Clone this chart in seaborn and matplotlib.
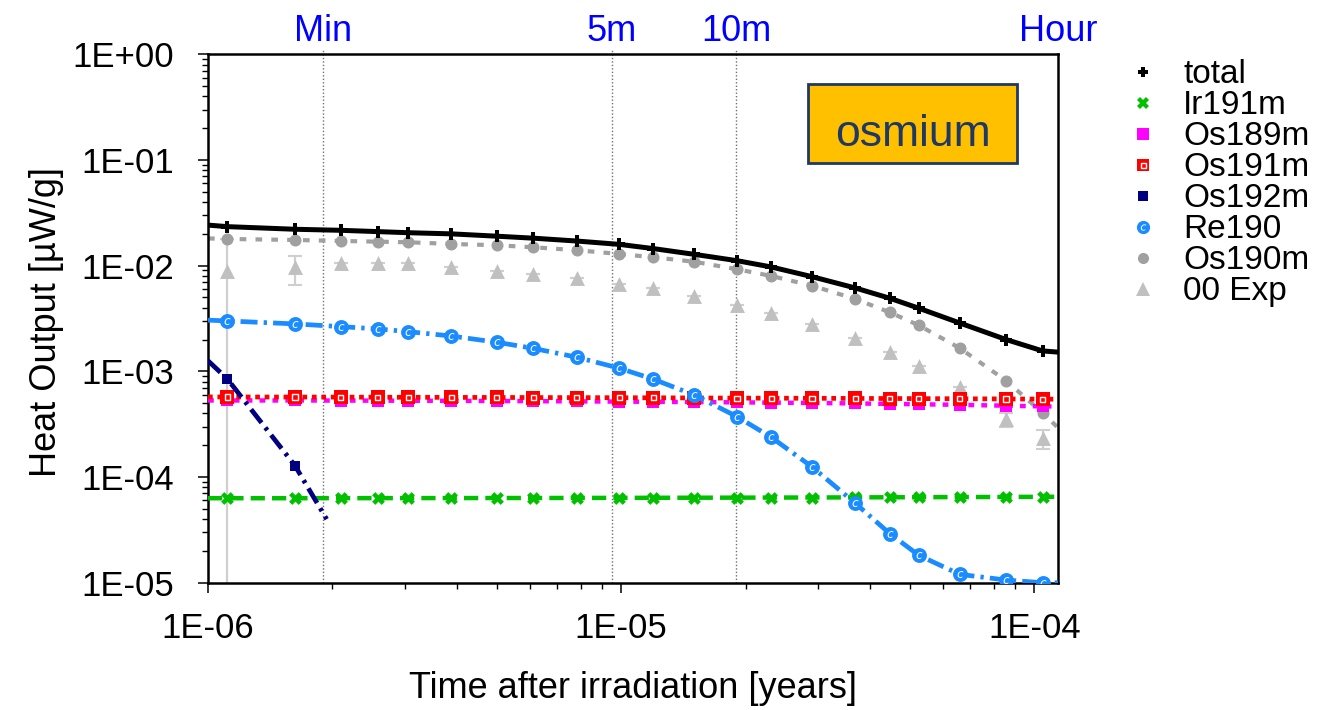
import numpy as np
import pandas as pd
import matplotlib
matplotlib.use("Agg")
import matplotlib.pyplot as plt
import seaborn as sns
from matplotlib.lines import Line2D
from matplotlib.patches import Rectangle
from matplotlib.ticker import LogLocator, FuncFormatter, NullFormatter
from matplotlib.transforms import blended_transform_factory

# ---------------- data ----------------
time_years = [1.114e-6, 1.624e-6, 2.096e-6, 2.576e-6, 3.05e-6, 3.876e-6, 5.0e-6,
              6.13e-6, 7.81e-6, 9.9e-6, 1.197e-5, 1.502e-5, 1.906e-5, 2.307e-5,
              2.895e-5, 3.686e-5, 4.465e-5, 5.248e-5, 6.594e-5, 8.54e-5, 1.047e-4]

total = [0.0234, 0.0221, 0.0216, 0.0210, 0.0205, 0.0200, 0.0190, 0.0182, 0.0171,
         0.0159, 0.0145, 0.0128, 0.01115, 0.00972, 0.00787, 0.00615, 0.00492,
         0.00396, 0.00287, 0.00200, 0.00156]
ir191m = [6.30e-5, 6.30e-5, 6.31e-5, 6.31e-5, 6.32e-5, 6.32e-5, 6.33e-5, 6.33e-5,
          6.34e-5, 6.35e-5, 6.36e-5, 6.37e-5, 6.38e-5, 6.39e-5, 6.40e-5, 6.42e-5,
          6.43e-5, 6.44e-5, 6.46e-5, 6.48e-5, 6.50e-5]
os189m = [5.30e-4, 5.30e-4, 5.29e-4, 5.28e-4, 5.27e-4, 5.26e-4, 5.24e-4, 5.22e-4,
          5.20e-4, 5.17e-4, 5.15e-4, 5.12e-4, 5.09e-4, 5.06e-4, 5.02e-4, 4.97e-4,
          4.92e-4, 4.88e-4, 4.82e-4, 4.73e-4, 4.66e-4]
os191m = [5.72e-4, 5.71e-4, 5.70e-4, 5.69e-4, 5.68e-4, 5.67e-4, 5.66e-4, 5.65e-4,
          5.64e-4, 5.63e-4, 5.62e-4, 5.60e-4, 5.58e-4, 5.57e-4, 5.56e-4, 5.54e-4,
          5.53e-4, 5.52e-4, 5.50e-4, 5.48e-4, 5.46e-4]
os192m_time = [1.114e-6, 1.624e-6]
os192m = [8.47e-4, 1.28e-4]
re190 = [3.0e-3, 2.81e-3, 2.65e-3, 2.52e-3, 2.375e-3, 2.16e-3, 1.885e-3, 1.65e-3,
         1.36e-3, 1.07e-3, 8.42e-4, 5.98e-4, 3.73e-4, 2.38e-4, 1.25e-4, 5.65e-5,
         2.92e-5, 1.82e-5, 1.20e-5, 1.06e-5, 1.0e-5]
os190m = [0.01789, 0.0175, 0.01713, 0.01687, 0.01665, 0.01605, 0.0156, 0.01493,
          0.0140, 0.0129, 0.0120, 0.0109, 0.00925, 0.00799, 0.00647, 0.00484,
          0.00362, 0.00273, 0.00166, 8.17e-4, 4.04e-4]
exp00 = [8.91e-3, 9.78e-3, 1.067e-2, 1.067e-2, 1.067e-2, 9.78e-3, 8.97e-3, 8.40e-3,
         7.70e-3, 6.67e-3, 6.11e-3, 5.17e-3, 4.25e-3, 3.55e-3, 2.79e-3, 2.06e-3,
         1.54e-3, 1.125e-3, 7.16e-4, 3.52e-4, 2.33e-4]
exp00_low = [1e-9, 6.57e-3, 1.067e-2, 1.067e-2, 1.067e-2, 9.78e-3, 8.97e-3, 8.40e-3,
             7.70e-3, 6.67e-3, 6.11e-3, 5.17e-3, 4.25e-3, 3.55e-3, 2.79e-3, 2.06e-3,
             1.54e-3, 1.125e-3, 7.16e-4, 3.0e-4, 1.845e-4]
exp00_high = [1.78e-2, 1.244e-2, 1.067e-2, 1.067e-2, 1.067e-2, 9.78e-3, 8.97e-3, 8.40e-3,
              7.70e-3, 6.67e-3, 6.11e-3, 5.17e-3, 4.25e-3, 3.55e-3, 2.79e-3, 2.06e-3,
              1.54e-3, 1.125e-3, 7.16e-4, 4.07e-4, 2.79e-4]

# curve values read where each drawn curve meets the plot edges
edge_times = [1e-6, 1.1408e-4]
total_edges = [0.0242, 1.52e-3]
ir191m_edges = [6.30e-5, 6.50e-5]
os189m_edges = [5.30e-4, 4.65e-4]
os191m_edges = [5.73e-4, 5.45e-4]
re190_edges = [3.05e-3, 1.0e-5]
os190m_edges = [0.0181, 2.93e-4]
os192m_curve_time = [1e-6, 1.114e-6, 1.624e-6, 1.937e-6]
os192m_curve = [1.26e-3, 8.47e-4, 1.28e-4, 3.99e-5]

marker_times = {"Min": 1.901e-6, "5m": 9.506e-6, "10m": 1.901e-5, "Hour": 1.1408e-4}
labels = ["total", "Ir191m", "Os189m", "Os191m", "Os192m", "Re190", "Os190m", "00 Exp"]
y_ticks = [1e-5, 1e-4, 1e-3, 1e-2, 1e-1, 1e0]
x_ticks = [1e-6, 1e-5, 1e-4]

# ---------------- style ----------------
sns.set_style("ticks")
plt.rcParams["font.family"] = ["Liberation Sans", "DejaVu Sans"]
plt.rcParams["axes.linewidth"] = 1.8
for k in ["text.color", "axes.labelcolor", "xtick.color", "ytick.color", "axes.edgecolor"]:
    plt.rcParams[k] = "black"

C_TOTAL = "black"
C_IR = "#00c000"
C_OS189 = "#ff00ff"
C_OS191 = "#ff0000"
C_OS192 = "#000080"
C_RE = "#1a8cff"
C_OS190 = "#a0a0a0"
C_EXP = "#c0c0c0"

fig = plt.figure(figsize=(13.44, 7.1), dpi=100)
ax = fig.add_axes([208 / 1344, 1 - 582.7 / 710, 850 / 1344, 528.4 / 710])
ax.set_xscale("log")
ax.set_yscale("log")
ax.set_xlim(1e-6, 1.1408e-4)
ax.set_ylim(1e-5, 1.0)


def curve(t, v, edges):
    return [edge_times[0]] + list(t) + [edge_times[1]], [edges[0]] + list(v) + [edges[1]]


# vertical time markers
for name in ["Min", "5m", "10m"]:
    ax.axvline(marker_times[name], ymin=0, ymax=1.008, color="#707070", lw=1.0,
               ls=(0, (1, 1.5)), zorder=1, clip_on=False)

trans = blended_transform_factory(ax.transData, ax.transAxes)
for name, tv in marker_times.items():
    ax.text(tv, 1.044, name, transform=trans, ha="center", va="center",
            color="#0000ff", fontsize=26, clip_on=False)

# experimental error bars
e_lo = [v - lo for v, lo in zip(exp00, exp00_low)]
e_hi = [hi - v for v, hi in zip(exp00, exp00_high)]
ax.errorbar(time_years, exp00, yerr=[e_lo, e_hi], fmt="none", ecolor="#cfcfcf",
            elinewidth=1.6, capsize=5, capthick=1.5, zorder=1.5)
sns.scatterplot(x=time_years, y=exp00, ax=ax, marker="^", s=115, color=C_EXP,
                linewidth=0, zorder=2)

# Os190m
cx, cy = curve(time_years, os190m, os190m_edges)
sns.lineplot(x=cx, y=cy, ax=ax, color=C_OS190, lw=3.0, linestyle=(0, (1.6, 2.2)),
             zorder=2.5, sort=False)
sns.scatterplot(x=time_years, y=os190m, ax=ax, marker="o", s=75, color=C_OS190,
                linewidth=0, zorder=2.6)

# Ir191m
cx, cy = curve(time_years, ir191m, ir191m_edges)
sns.lineplot(x=cx, y=cy, ax=ax, color=C_IR, lw=3.2, linestyle=(0, (3.2, 1.6)),
             zorder=3, sort=False)
sns.scatterplot(x=time_years, y=ir191m, ax=ax, marker="X", s=85, color=C_IR,
                linewidth=0, zorder=3.1)

# Os189m
cx, cy = curve(time_years, os189m, os189m_edges)
sns.lineplot(x=cx, y=cy, ax=ax, color=C_OS189, lw=3.2, linestyle=(0, (1.3, 1.6)),
             zorder=3.2, sort=False)
sns.scatterplot(x=time_years, y=os189m, ax=ax, marker="s", s=75, color=C_OS189,
                linewidth=0, zorder=3.3)

# Os191m
cx, cy = curve(time_years, os191m, os191m_edges)
sns.lineplot(x=cx, y=cy, ax=ax, color=C_OS191, lw=3.4, linestyle=(0, (1, 1)),
             zorder=3.4, sort=False)
sns.scatterplot(x=time_years, y=os191m, ax=ax, marker="s", s=105, color=C_OS191,
                linewidth=0, zorder=3.5)
sns.scatterplot(x=time_years, y=os191m, ax=ax, marker="s", s=14, color="white",
                facecolor="none", edgecolor="white", linewidth=1.0, zorder=3.55)

# Os192m
sns.lineplot(x=os192m_curve_time, y=os192m_curve, ax=ax, color=C_OS192, lw=3.4,
             linestyle=(0, (3.6, 1.3, 0.7, 1.3)), zorder=3.6, sort=False)
sns.scatterplot(x=os192m_time, y=os192m, ax=ax, marker="s", s=60, color=C_OS192,
                linewidth=0, zorder=3.7)

# Re190
cx, cy = curve(time_years, re190, re190_edges)
sns.lineplot(x=cx, y=cy, ax=ax, color=C_RE, lw=3.4,
             linestyle=(0, (3.6, 1.3, 0.7, 1.3)), zorder=3.8, sort=False)
sns.scatterplot(x=time_years, y=re190, ax=ax, marker="o", s=115, color=C_RE,
                linewidth=0, zorder=3.9)
sns.scatterplot(x=time_years, y=re190, ax=ax, marker="$c$", s=24, color="white",
                linewidth=0, zorder=3.95)

# total
cx, cy = curve(time_years, total, total_edges)
sns.lineplot(x=cx, y=cy, ax=ax, color=C_TOTAL, lw=3.6, zorder=4, sort=False)
sns.scatterplot(x=time_years, y=total, ax=ax, marker="P", s=65, color=C_TOTAL,
                linewidth=0, zorder=4.1)

# ---------------- axes ----------------
ax.set_xticks(x_ticks)
ax.set_yticks(y_ticks)
ax.xaxis.set_minor_locator(LogLocator(base=10, subs=np.arange(2, 10), numticks=20))
ax.yaxis.set_minor_locator(LogLocator(base=10, subs=np.arange(2, 10), numticks=20))
fmt = FuncFormatter(lambda v, p: format(v, ".0E"))
ax.xaxis.set_major_formatter(fmt)
ax.yaxis.set_major_formatter(fmt)
ax.xaxis.set_minor_formatter(NullFormatter())
ax.yaxis.set_minor_formatter(NullFormatter())
ax.tick_params(axis="both", which="major", direction="out", length=7.2, width=1.1,
               labelsize=25, top=False, right=False, color="black", labelcolor="black")
ax.tick_params(axis="both", which="minor", direction="out", length=4.3, width=1.0,
               top=False, right=False, color="black")
ax.tick_params(axis="x", which="major", pad=14)
ax.tick_params(axis="y", which="major", pad=17)
for sp in ax.spines.values():
    sp.set_color("black")
    sp.set_linewidth(1.8)
    sp.set_visible(True)

ax.set_xlabel("Time after irradiation [years]", fontsize=26, color="black")
ax.set_ylabel("Heat Output [µW/g]", fontsize=26, color="black")
ax.xaxis.set_label_coords(0.5, (582.7 - 689) / 528.4)
ax.xaxis.label.set_verticalalignment("center")
ax.yaxis.set_label_coords((47 - 208) / 850, 0.494)
ax.yaxis.label.set_verticalalignment("center")

# osmium box
ax.add_patch(Rectangle((0.706, 0.794), 0.246, 0.150, transform=ax.transAxes,
                       facecolor="#ffc000", edgecolor="#1f3864", lw=2.0, zorder=5))
ax.text(0.829, (582.7 - 146) / 528.4, "osmium", transform=ax.transAxes, ha="center",
        va="baseline", fontsize=32, color="#1f3864", zorder=6)

# ---------------- legend ----------------
def mk(marker, color, size, **kw):
    return Line2D([], [], linestyle="none", marker=marker, color=color,
                  markerfacecolor=kw.get("mfc", color), markeredgecolor=kw.get("mec", color),
                  markeredgewidth=kw.get("mew", 0), markersize=size)

handles = [
    mk("P", C_TOTAL, 7.5),
    mk("X", C_IR, 8.5),
    mk("s", C_OS189, 8),
    (mk("s", C_OS191, 9), mk("s", "white", 3.6, mfc="none", mec="white", mew=1.0)),
    mk("s", C_OS192, 7.2),
    (mk("o", C_RE, 9.5), mk("$c$", "white", 4.5)),
    mk("o", C_OS190, 8),
    mk("^", C_EXP, 10),
]
leg = fig.legend(handles, labels, loc="upper left",
                 bbox_to_anchor=(1113 / 1344, 1 - 46 / 710),
                 frameon=False, fontsize=24, handlelength=1.0, handletextpad=0.7,
                 labelspacing=0.0, borderpad=0.4, borderaxespad=0)
for t in leg.get_texts():
    t.set_color("black")

fig.savefig("out.png", dpi=100)
